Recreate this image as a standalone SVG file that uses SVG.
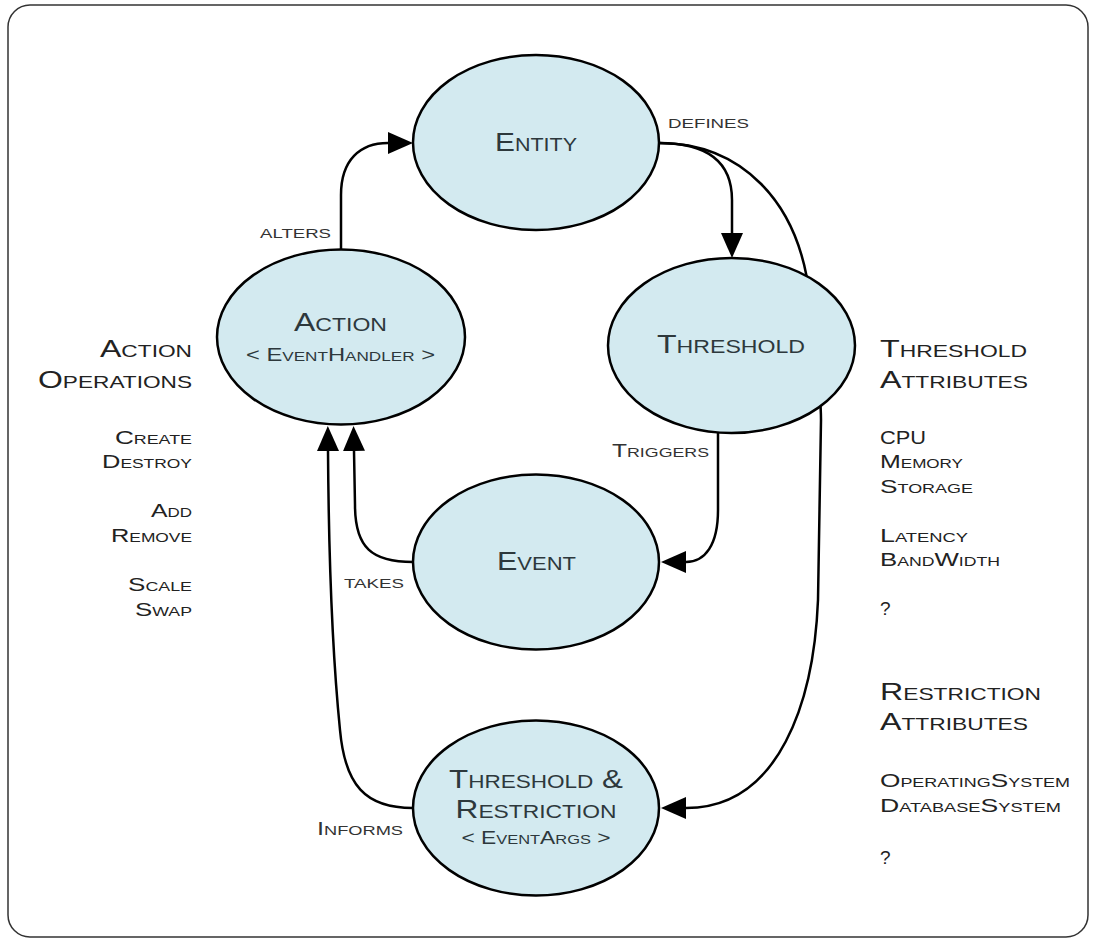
<svg xmlns="http://www.w3.org/2000/svg" width="1093" height="941" viewBox="0 0 1093 941">
<style>
  .node ellipse { fill: #d3eaf0; stroke: #000; stroke-width: 2.5; }
  .nt { font-family: "Liberation Sans", Arial, sans-serif; font-variant: small-caps; fill: #2d383c; text-anchor: middle; }
  .big { font-size: 25px; }
  .sub { font-size: 18px; }
  .lbl { font-family: "Liberation Sans", Arial, sans-serif; font-variant: small-caps; font-size: 18px; fill: #333; }
  .hd { font-family: "Liberation Sans", Arial, sans-serif; font-variant: small-caps; font-size: 24px; fill: #222; }
  .it { font-family: "Liberation Sans", Arial, sans-serif; font-variant: small-caps; font-size: 19px; fill: #222; }
  .r { text-anchor: end; }
  .conn path { fill: none; stroke: #000; stroke-width: 2.5; marker-end: url(#arr); }
  .conn path.nomark { marker-end: none; }
</style>
<defs>
  <marker id="arr" markerUnits="userSpaceOnUse" viewBox="0 0 25 22" markerWidth="25" markerHeight="22" refX="0" refY="11" orient="auto">
    <path d="M0,0 L25,11 L0,22 z" fill="#000"/>
  </marker>
</defs>
<rect x="8" y="5" width="1080" height="932" rx="22" ry="22" fill="#fff" stroke="#333" stroke-width="1.5"/>

<g id="connectors" class="conn">
  <path id="e-alters" d="M341,250 L341,195 C341,160 360,143 388,143"/>
  <path id="e-defines" d="M659,143 C705,143 732,160 732,200 L732,233"/>
  <path id="e-entity-tr" d="M659,143 C740,143 800,200 810,300 C816,360 821,390 821,420 L818,600 C814,700 780,808 686,808"/>
  <path id="e-triggers" d="M718,433 L718,510 C718,545 705,562 686,562"/>
  <path id="e-takes" d="M413,562 C372,562 355,548 355,505 L354,451"/>
  <path id="e-informs" d="M413,808 C365,808 345,785 340,730 C335,680 329,600 328,451"/>
</g>

<g id="node-entity" class="node">
  <ellipse cx="536" cy="142.5" rx="123" ry="87.5"/>
  <text class="nt big" x="536" y="151" textLength="82" lengthAdjust="spacingAndGlyphs">Entity</text>
</g>
<g id="node-action" class="node">
  <ellipse cx="341" cy="337" rx="124" ry="87.5"/>
  <text class="nt big" x="340.5" y="331" textLength="93" lengthAdjust="spacingAndGlyphs">Action</text>
  <text class="nt sub" x="340.5" y="361" textLength="189" lengthAdjust="spacingAndGlyphs">&lt; EventHandler &gt;</text>
</g>
<g id="node-threshold" class="node">
  <ellipse cx="731.5" cy="345.5" rx="123.5" ry="87.5"/>
  <text class="nt big" x="731" y="353" textLength="148" lengthAdjust="spacingAndGlyphs">Threshold</text>
</g>
<g id="node-event" class="node">
  <ellipse cx="536" cy="562" rx="123" ry="87.5"/>
  <text class="nt big" x="536.5" y="570" textLength="79" lengthAdjust="spacingAndGlyphs">Event</text>
</g>
<g id="node-threshold-restriction" class="node">
  <ellipse cx="536" cy="808" rx="123" ry="87.5"/>
  <text class="nt big" x="536" y="788" textLength="174" lengthAdjust="spacingAndGlyphs">Threshold &amp;</text>
  <text class="nt big" x="536" y="818" textLength="161" lengthAdjust="spacingAndGlyphs">Restriction</text>
  <text class="nt sub" x="536" y="844" textLength="149" lengthAdjust="spacingAndGlyphs">&lt; EventArgs &gt;</text>
</g>

<g id="edge-labels">
  <text class="lbl" x="260" y="238" textLength="71" lengthAdjust="spacingAndGlyphs">alters</text>
  <text class="lbl" x="668" y="128" textLength="81" lengthAdjust="spacingAndGlyphs">defines</text>
  <text class="lbl" x="612" y="457" textLength="97" lengthAdjust="spacingAndGlyphs">Triggers</text>
  <text class="lbl" x="344" y="588" textLength="60" lengthAdjust="spacingAndGlyphs">takes</text>
  <text class="lbl" x="317" y="835" textLength="86" lengthAdjust="spacingAndGlyphs">Informs</text>
</g>

<g id="action-operations">
  <text class="hd r" x="192" y="357" textLength="92" lengthAdjust="spacingAndGlyphs">Action</text>
  <text class="hd r" x="192" y="388" textLength="154" lengthAdjust="spacingAndGlyphs">Operations</text>
  <text class="it r" x="192" y="444" textLength="77" lengthAdjust="spacingAndGlyphs">Create</text>
  <text class="it r" x="192" y="468" textLength="90" lengthAdjust="spacingAndGlyphs">Destroy</text>
  <text class="it r" x="192" y="517" textLength="41" lengthAdjust="spacingAndGlyphs">Add</text>
  <text class="it r" x="192" y="542" textLength="81" lengthAdjust="spacingAndGlyphs">Remove</text>
  <text class="it r" x="192" y="591" textLength="64" lengthAdjust="spacingAndGlyphs">Scale</text>
  <text class="it r" x="192" y="616" textLength="57" lengthAdjust="spacingAndGlyphs">Swap</text>
</g>

<g id="threshold-attributes">
  <text class="hd" x="880" y="357" textLength="147" lengthAdjust="spacingAndGlyphs">Threshold</text>
  <text class="hd" x="880" y="388" textLength="148" lengthAdjust="spacingAndGlyphs">Attributes</text>
  <text class="it" x="880" y="444" textLength="46" lengthAdjust="spacingAndGlyphs">CPU</text>
  <text class="it" x="880" y="468" textLength="83" lengthAdjust="spacingAndGlyphs">Memory</text>
  <text class="it" x="880" y="493" textLength="93" lengthAdjust="spacingAndGlyphs">Storage</text>
  <text class="it" x="880" y="542" textLength="88" lengthAdjust="spacingAndGlyphs">Latency</text>
  <text class="it" x="880" y="566" textLength="120" lengthAdjust="spacingAndGlyphs">BandWidth</text>
  <text class="it" x="880" y="615">?</text>
</g>

<g id="restriction-attributes">
  <text class="hd" x="880" y="700" textLength="161" lengthAdjust="spacingAndGlyphs">Restriction</text>
  <text class="hd" x="880" y="730" textLength="148" lengthAdjust="spacingAndGlyphs">Attributes</text>
  <text class="it" x="880" y="787" textLength="190" lengthAdjust="spacingAndGlyphs">OperatingSystem</text>
  <text class="it" x="880" y="812" textLength="181" lengthAdjust="spacingAndGlyphs">DatabaseSystem</text>
  <text class="it" x="880" y="864">?</text>
</g>
</svg>
